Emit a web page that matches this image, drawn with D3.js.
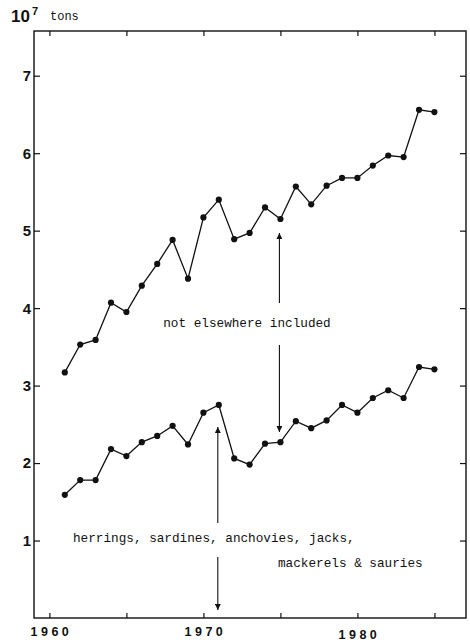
<!DOCTYPE html>
<html>
<head>
<meta charset="utf-8">
<script src="https://cdn.jsdelivr.net/npm/d3@7"></script>
<style>
html,body{margin:0;padding:0;background:#fff;}
svg{display:block;}
</style>
</head>
<body>
<div id="chart"></div>
<script>
// ---- data ----
const years = [1961,1962,1963,1964,1965,1966,1967,1968,1969,1970,1971,1972,1973,1974,1975,1976,1977,1978,1979,1980,1981,1982,1983,1984,1985];
const notElsewhere = [3.17,3.53,3.59,4.07,3.95,4.29,4.57,4.88,4.38,5.17,5.40,4.89,4.97,5.30,5.15,5.57,5.34,5.58,5.68,5.68,5.84,5.97,5.95,6.56,6.53];
const herrings = [1.59,1.78,1.78,2.18,2.09,2.27,2.35,2.48,2.24,2.65,2.75,2.06,1.98,2.25,2.27,2.54,2.45,2.55,2.75,2.65,2.84,2.94,2.84,3.24,3.21];
const xTickValues = [1960,1965,1970,1975,1980,1985];
const xTickLabels = ["1960","","1970","","1980",""];
const yTickValues = [1,2,3,4,5,6,7];
const yUnitBase = "10";
const yUnitExp = "7";
const yUnitText = "tons";
const labelTop = "not elsewhere included";
const labelBottom1 = "herrings, sardines, anchovies, jacks,";
const labelBottom2 = "mackerels & sauries";

(function(){
// ---- layout ----
const W = 470, H = 642;
const pL = 34, pR = 466, pT = 31, pB = 618;
const x = d3.scaleLinear().domain([1959, 1987.05]).range([pL, pR]);
const y = d3.scaleLinear().domain([0, 7.577]).range([pB, pT]);

const svg = d3.select("#chart").append("svg").attr("width", W).attr("height", H);
const ink = "#111";

// frame
svg.append("rect").attr("x", pL).attr("y", pT).attr("width", pR-pL).attr("height", pB-pT)
  .attr("fill","none").attr("stroke",ink).attr("stroke-width",1.4);

function styleAxis(g){
  g.select(".domain").remove();
  g.selectAll(".tick line").attr("stroke",ink).attr("stroke-width",1.2);
  g.selectAll(".tick text").remove();
}
svg.append("g").attr("transform",`translate(0,${pB})`)
  .call(d3.axisBottom(x).tickValues(xTickValues).tickSize(-5).tickSizeOuter(0)).call(styleAxis);
svg.append("g").attr("transform",`translate(0,${pT})`)
  .call(d3.axisTop(x).tickValues(xTickValues).tickSize(-5).tickSizeOuter(0)).call(styleAxis);
svg.append("g").attr("transform",`translate(${pL},0)`)
  .call(d3.axisLeft(y).tickValues(yTickValues).tickSize(-6).tickSizeOuter(0)).call(styleAxis);
svg.append("g").attr("transform",`translate(${pR},0)`)
  .call(d3.axisRight(y).tickValues(yTickValues).tickSize(-6).tickSizeOuter(0)).call(styleAxis);

// y labels
svg.append("g").selectAll("text").data(yTickValues).join("text")
  .attr("x", pL-3).attr("y", d => y(d)).attr("dy","0.36em")
  .attr("text-anchor","end")
  .attr("font-family","Liberation Sans, Arial, sans-serif").attr("font-weight","bold")
  .attr("font-size",15).attr("fill",ink)
  .text(d => d);

// x labels (spaced digits)
svg.append("g").selectAll("text").data(xTickValues.map((v,i)=>({v,l:xTickLabels[i]})).filter(d=>d.l))
  .join("text")
  .attr("x", d => x(d.v) + 2).attr("y", d => d.v===1980 ? 638.5 : 636)
  .attr("text-anchor","middle")
  .attr("font-family","Liberation Sans, Arial, sans-serif").attr("font-weight","bold")
  .attr("font-size",12.5).attr("letter-spacing","3.5px").attr("fill",ink)
  .text(d => d.l);

// unit label
const unit = svg.append("text").attr("x", 11).attr("y", 22)
  .attr("font-family","Liberation Sans, Arial, sans-serif").attr("fill",ink);
unit.append("tspan").attr("font-weight","bold").attr("font-size",17).text(yUnitBase);
unit.append("tspan").attr("font-weight","bold").attr("font-size",11).attr("dy",-7).attr("dx",2).text(yUnitExp);
svg.append("text").attr("x", 50).attr("y", 20)
  .attr("font-family","Liberation Mono, Courier New, monospace").attr("font-size",12).attr("fill",ink)
  .text(yUnitText);

// lines
const line = d3.line().x((d,i)=>x(years[i])).y(d=>y(d));
[notElsewhere, herrings].forEach(series=>{
  svg.append("path").datum(series).attr("d", line)
    .attr("fill","none").attr("stroke",ink).attr("stroke-width",1.3);
  svg.append("g").selectAll("circle").data(series).join("circle")
    .attr("cx",(d,i)=>x(years[i])).attr("cy",d=>y(d)).attr("r",3.1).attr("fill",ink);
});

// arrows
const defs = svg.append("defs");
defs.append("marker").attr("id","ah").attr("viewBox","0 0 10 10").attr("refX",10).attr("refY",5)
  .attr("markerWidth",9).attr("markerHeight",6).attr("markerUnits","userSpaceOnUse").attr("orient","auto")
  .append("path").attr("d","M0,0 L10,5 L0,10 Z").attr("fill",ink);

function arrow(x0,y0,x1,y1){
  svg.append("line").attr("x1",x0).attr("y1",y0).attr("x2",x1).attr("y2",y1)
    .attr("stroke",ink).attr("stroke-width",1.1).attr("marker-end","url(#ah)");
}
const ax1 = x(1975) - 1;
arrow(ax1, 303, ax1, 233);
arrow(ax1, 345, ax1, 432);
const ax2 = x(1971) - 1;
arrow(ax2, 523, ax2, 427);
arrow(ax2, 557, ax2, 610);

const mono = "Liberation Mono, Courier New, monospace";
svg.append("text").attr("x", 247).attr("y", 323).attr("dy","0.35em").attr("text-anchor","middle")
  .attr("font-family",mono).attr("font-size",12.7).attr("fill",ink).text(labelTop);
svg.append("text").attr("x", 73).attr("y", 538).attr("dy","0.35em")
  .attr("font-family",mono).attr("font-size",12.7).attr("fill",ink).text(labelBottom1);
svg.append("text").attr("x", 278).attr("y", 562.5).attr("dy","0.35em")
  .attr("font-family",mono).attr("font-size",12.7).attr("fill",ink).text(labelBottom2);
})();
</script>
</body>
</html>
